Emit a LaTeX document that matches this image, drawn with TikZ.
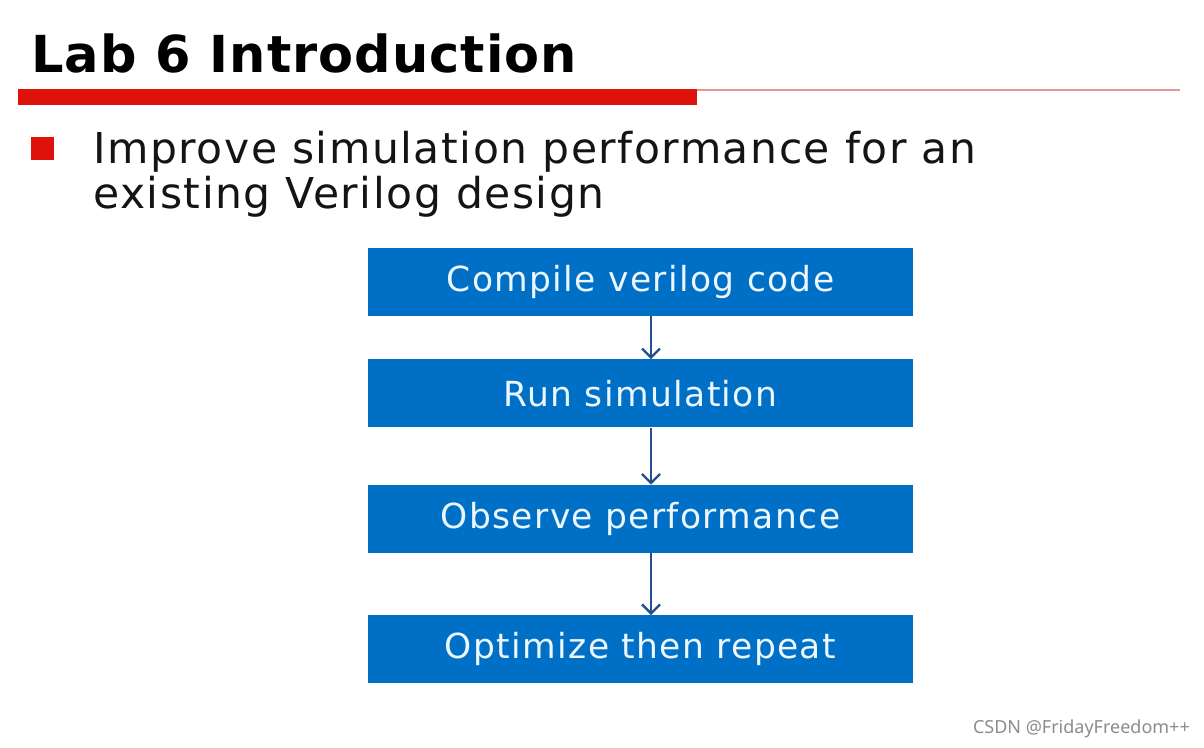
\documentclass[tikz,border=0pt]{standalone}
\usepackage{fontspec}
\setmainfont{DejaVu Sans}
\newfontfamily\wmfont{Noto Sans}
\usetikzlibrary{arrows.meta}
\usetikzlibrary{positioning}
\definecolor{slidered}{RGB}{222,18,10}
\definecolor{thinred}{RGB}{228,150,150}
\definecolor{stepblue}{RGB}{0,112,198}
\definecolor{steptext}{RGB}{236,246,255}
\definecolor{arrowblue}{RGB}{36,78,140}
\tikzset{
    stepbox/.style={rectangle, fill=stepblue, minimum width=545pt, minimum height=68pt,
        inner sep=0pt, text=steptext,
        font=\fontsize{34.5}{40}\selectfont\addfontfeature{LetterSpace=4}},
    flow/.style={draw=arrowblue, line width=2.3pt, -{Straight Barb[length=9pt,width=18pt]}},
    bullettext/.style={anchor=base west, inner sep=0pt, text=black!92,
        font=\fontsize{42.5}{46}\selectfont\addfontfeature{LetterSpace=3.6}},
}

\begin{document}
\begin{tikzpicture}[x=1pt,y=-1pt]
    \useasboundingbox[fill=white] (0,0) rectangle (1204,747);
    % title and rule
    \node[anchor=base west, inner sep=0pt, font=\fontsize{51}{56}\selectfont\bfseries\addfontfeature{LetterSpace=2}] (title) at (31,72) {Lab 6 Introduction};
    \fill[slidered] (18,89) rectangle (697,105);
    \draw[thinred, line width=1.5pt] (697,90) -- (1180,90);
    % bullet
    \fill[slidered] (31,137) rectangle (54,160);
    \node[bullettext] (line1) at (93,163) {Improve simulation performance for an};
    \node[bullettext] (line2) at (93,208) {existing Verilog design};
    % flow
    \node[stepbox] (compile) at (640.5,282) {Compile verilog code};
    \node[stepbox, below=43pt of compile] (run) {Run simulation};
    \node[stepbox, below=57pt of run] (observe) {Observe performance};
    \node[stepbox, below=62pt of observe] (optimize) {Optimize then repeat};
    \draw[flow] ([xshift=10.5pt]compile.south) -- ([xshift=10.5pt]run.north);
    \draw[flow] ([xshift=10.5pt]run.south) -- ([xshift=10.5pt]observe.north);
    \draw[flow] ([xshift=10.5pt]observe.south) -- ([xshift=10.5pt]optimize.north);
    % watermark
    \node[anchor=base east, inner sep=0pt, text=black!45, font=\wmfont\fontsize{18}{20}\selectfont] (mark) at (1190,733) {CSDN @FridayFreedom++};
\end{tikzpicture}
\end{document}
